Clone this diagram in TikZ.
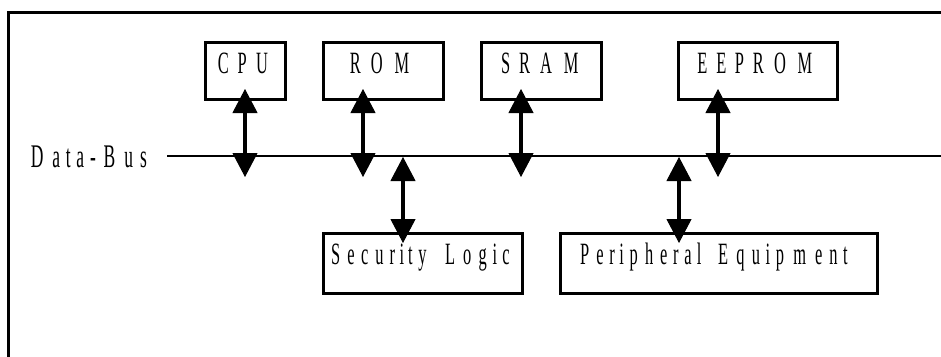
\documentclass[tikz,border=0pt]{standalone}
\usepackage{fontspec}
\setmainfont{Liberation Serif}
\usepackage{graphicx}
\usepackage{tikz}
\usetikzlibrary{calc,arrows.meta}
\definecolor{ink}{HTML}{000000}
\definecolor{paper}{HTML}{FFFFFF}
\newcommand\unitfont{\fontsize{31}{36}\selectfont}
\newcommand\busfont{\fontsize{33}{38}\selectfont}

% narrow letters, wide spacing
\ExplSyntaxOn
\box_new:N \l__sq_box
\NewDocumentCommand \squeeze { m }
  {
    \str_map_inline:nn { #1 }
      {
        \hbox_set:Nn \l__sq_box { ##1 }
        \hbox_to_wd:nn { \box_wd:N \l__sq_box } { \hss \scalebox{0.53}[1]{##1} \hss }
      }
  }
\ExplSyntaxOff

\tikzset{
  frame/.style={draw=ink, line width=3pt},
  bus/.style={draw=ink, line width=2pt},
  unit/.style={draw=ink, line width=3pt, outer sep=0pt, anchor=north west, align=left,
    inner ysep=0pt, text height=31pt, font=\unitfont},
  unittop/.style={unit, text depth=26pt},
  unitlow/.style={unit, text depth=29pt},
  lab/.style={text=ink, font=\busfont, inner sep=0pt, anchor=base west},
  link/.style={draw=ink, line width=4pt,
    {Triangle[length=24pt,width=25pt,line width=1pt]}-{Triangle[length=24pt,width=25pt,line width=1pt]}},
}

\begin{document}
\begin{tikzpicture}[x=1pt, y=-1pt]
\fill[paper] (0,0) rectangle (941,356);
\clip (0,0) rectangle (941,356);
\draw[frame] (8,12) rectangle (960,380);

% units above the bus
\node[unittop, inner xsep=8pt, text width=64pt] (cpu) at (205,42) {\squeeze{CPU}};
\node[unittop, inner xsep=22pt, text width=76pt] (rom) at (323,42) {\squeeze{ROM}};
\node[unittop, inner xsep=16pt, text width=88pt] (sram) at (481,42) {\squeeze{SRAM}};
\node[unittop, inner xsep=15pt, text width=129pt] (eeprom) at (678,42) {\squeeze{EEPROM}};

% the bus
\node[lab] (buslab) at (25,167) {\squeeze{Data-Bus}};
\coordinate (busL) at (167,156);
\coordinate (busR) at (945,156);
\draw[bus] (busL) -- (busR);

% units below the bus
\node[unitlow, inner xsep=4pt, text width=191pt] (seclogic) at (323,233) {\squeeze{Security Logic}};
\node[unitlow, inner xsep=16pt, text width=285pt] (periph) at (560,233) {\squeeze{Peripheral Equipment}};

\foreach \u in {cpu,rom,sram,eeprom}
  \draw[link] ($(\u.south west)+(40,-10)$) -- ($(\u.south west |- busL)+(40,21)$);
\draw[link] ($(seclogic.north west |- busL)+(80,1)$) -- ($(seclogic.north west)+(80,10)$);
\draw[link] ($(periph.north west |- busL)+(119,1)$) -- ($(periph.north west)+(119,10)$);
\end{tikzpicture}
\end{document}
